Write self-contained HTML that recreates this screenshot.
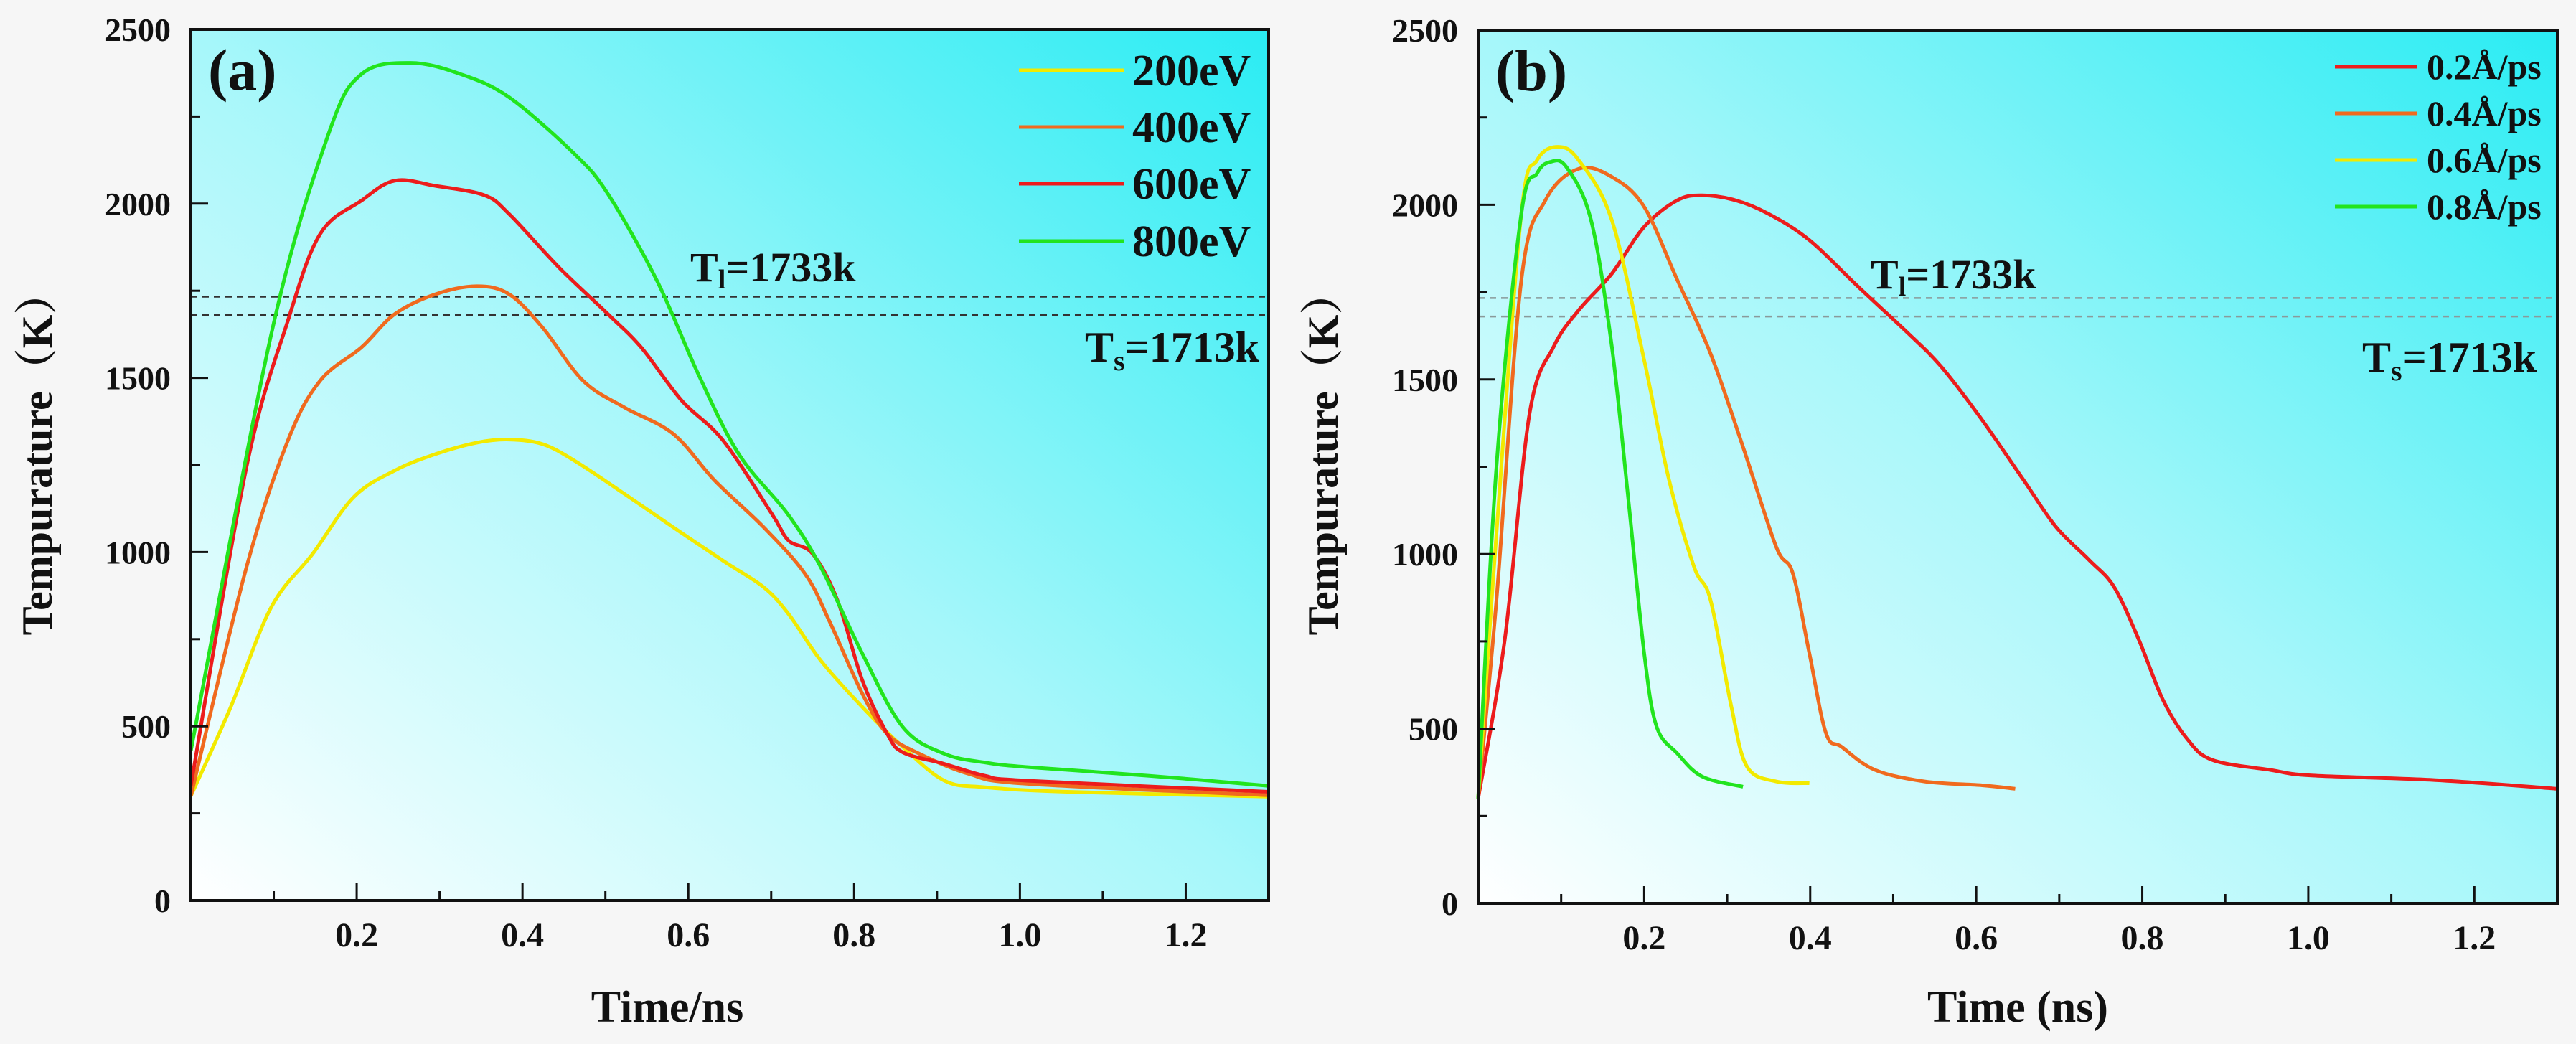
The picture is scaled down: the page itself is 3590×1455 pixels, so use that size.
<!DOCTYPE html>
<html><head><meta charset="utf-8">
<style>
html,body{margin:0;padding:0;background:#f6f6f6;}
svg{display:block;}
text{font-family:"Liberation Serif","Noto Serif CJK SC",serif;font-weight:bold;fill:#111;}
</style></head>
<body>
<svg id="fig" width="3590" height="1455" viewBox="0 0 3590 1455" xmlns="http://www.w3.org/2000/svg">
<defs>
<linearGradient id="bg" x1="0" y1="1" x2="1" y2="0">
<stop offset="0" stop-color="#ffffff"/>
<stop offset="0.5" stop-color="#a6f7fa"/>
<stop offset="1" stop-color="#2aecf3"/>
</linearGradient>
</defs>
<rect width="3590" height="1455" fill="#f6f6f6"/>
<g id="panelA"></g>
<g id="panelB"></g>
</svg>
<script>
// ---- Panel (a) data ----
const aSeriesNames = ["200eV","400eV","600eV","800eV"];
const aColors = ["#f2ea00","#f06a1e","#ec1c1c","#22e41e"];
const aX200 = [0,.048,.097,.147,.196,.246,.295,.345,.384,.424,.463,.523,.582,.642,.691,.721,.76,.81,.859,.909,.958,1.057,1.3];
const aY200 = [300,555,842,995,1157,1234,1281,1314,1323,1310,1262,1167,1071,975,899,822,688,555,440,344,325,312,298];
const aX400 = [0,.067,.117,.156,.206,.246,.295,.345,.384,.424,.473,.523,.582,.632,.691,.741,.77,.81,.84,.879,.939,1.008,1.3];
const aY400 = [300,956,1320,1492,1588,1683,1740,1763,1740,1645,1492,1415,1339,1205,1071,937,803,593,478,421,363,335,302];
const aX600 = [0,.067,.117,.156,.206,.246,.295,.354,.384,.444,.503,.543,.592,.642,.701,.721,.75,.78,.81,.84,.859,.909,.958,1.008,1.3];
const aY600 = [330,1243,1664,1913,2009,2066,2051,2024,1970,1817,1683,1588,1435,1320,1109,1033,995,861,631,478,425,392,358,344,312];
const aX800 = [0,.097,.166,.206,.265,.325,.384,.463,.503,.562,.612,.661,.72,.76,.81,.859,.909,.958,1.008,1.156,1.3];
const aY800 = [430,1626,2200,2372,2404,2372,2305,2142,2028,1780,1511,1281,1109,956,708,497,421,396,383,358,329];
// ---- Panel (b) data ----
const bSeriesNames = ["0.2Å/ps","0.4Å/ps","0.6Å/ps","0.8Å/ps"];
const bColors = ["#ec1c1c","#f06a1e","#f2ea00","#22e41e"];
const bX02 = [0,.032,.062,.091,.121,.161,.2,.24,.27,.31,.349,.399,.458,.518,.558,.607,.657,.696,.736,.766,.796,.825,.855,.885,.954,1.004,1.153,1.3];
const bY02 = [300,754,1403,1594,1698,1803,1937,2013,2027,2013,1975,1899,1765,1632,1536,1384,1212,1078,983,906,754,582,468,410,382,366,353,328];
const bX04 = [0,.022,.052,.081,.121,.161,.2,.24,.28,.319,.359,.379,.399,.419,.438,.478,.538,.607,.647];
const bY04 = [300,868,1784,2013,2103,2080,1994,1784,1574,1307,1021,945,716,487,448,382,349,338,328];
const bX06 = [0,.022,.052,.071,.096,.121,.161,.2,.23,.26,.28,.305,.324,.359,.399];
const bY06 = [300,1059,1975,2128,2166,2128,1956,1555,1212,964,868,563,391,349,344];
const bX08 = [0,.022,.052,.071,.086,.106,.136,.161,.181,.2,.215,.24,.27,.319];
const bY08 = [300,1250,1975,2090,2122,2109,1956,1594,1155,716,506,429,363,334];
// ---- axis ticks ----
const xTickVals = [0.2,0.4,0.6,0.8,1.0,1.2];
const xTickLabels = ["0.2","0.4","0.6","0.8","1.0","1.2"];
const yTickVals = [0,500,1000,1500,2000,2500];
const yTickLabels = ["0","500","1000","1500","2000","2500"];
const refLines = [1733,1680];

const NS="http://www.w3.org/2000/svg";
function mk(tag, attrs, parent){const e=document.createElementNS(NS,tag);for(const k in attrs)e.setAttribute(k,attrs[k]);parent.appendChild(e);return e;}
function smoothPath(pts){
  let d="M"+pts[0][0].toFixed(1)+","+pts[0][1].toFixed(1);
  for(let i=0;i<pts.length-1;i++){
    const p0=pts[Math.max(0,i-1)],p1=pts[i],p2=pts[i+1],p3=pts[Math.min(pts.length-1,i+2)];
    const c1=[p1[0]+(p2[0]-p0[0])/6,p1[1]+(p2[1]-p0[1])/6];
    const c2=[p2[0]-(p3[0]-p1[0])/6,p2[1]-(p3[1]-p1[1])/6];
    d+=" C"+c1[0].toFixed(1)+","+c1[1].toFixed(1)+" "+c2[0].toFixed(1)+","+c2[1].toFixed(1)+" "+p2[0].toFixed(1)+","+p2[1].toFixed(1);
  }
  return d;
}
function panel(g, cfg){
  const L=cfg.L,R=cfg.R,T=cfg.T,B=cfg.B;
  const sx=v=>L+(v-0)/(1.3-0)*(R-L);
  const sy=v=>B-(v-0)/2500*(B-T);
  const bg=mk("rect",{x:L,y:T,width:R-L,height:B-T,fill:"url(#bg)"},g);
  
  
  refLines.forEach((v,i)=>{
    const l=mk("line",{x1:L,x2:R,y1:sy(v),y2:sy(v),stroke:cfg.refColor,"stroke-width":2.5,"stroke-dasharray":"9,7"},g);
    
    
  });
  cfg.series.forEach((s,i)=>{
    const pts=s.x.map((xv,j)=>[sx(xv),sy(s.y[j])]);
    const p=mk("path",{d:smoothPath(pts),fill:"none",stroke:cfg.colors[i],"stroke-width":5,"stroke-linejoin":"round"},g);
    
    
  });
  const fr=mk("rect",{x:L,y:T,width:R-L,height:B-T,fill:"none",stroke:"#111","stroke-width":4},g);
  
  
  for(let k=1;k<=12;k++){
    const v=k/10, major=(k%2===0);
    const t=mk("line",{x1:sx(v),x2:sx(v),y1:B,y2:B-(major?24:13),stroke:"#111","stroke-width":3},g);
    
    
  }
  xTickVals.forEach((v,i)=>{
    const t=mk("text",{x:sx(v),y:B+64,"font-size":48,"text-anchor":"middle"},g);
    t.textContent=xTickLabels[i];
    
    
  });
  for(let k=1;k<10;k++){
    const v=k*250, major=(k%2===0);
    const t=mk("line",{x1:L,x2:L+(major?24:13),y1:sy(v),y2:sy(v),stroke:"#111","stroke-width":3},g);
    
    
  }
  yTickVals.forEach((v,i)=>{
    const t=mk("text",{x:L-28,y:sy(v)+16,"font-size":46,"text-anchor":"end"},g);
    t.textContent=yTickLabels[i];
    
    
  });
  const xt=mk("text",{x:cfg.xTitleX,y:1424,"font-size":62,"text-anchor":"middle"},g);
  xt.textContent=cfg.xTitle;
  
  
  const yt=mk("text",{x:0,y:0,"font-size":60,"text-anchor":"middle",transform:"translate("+(cfg.yTitleX)+",632) rotate(-90)"},g);
  yt.textContent="Tempurature（K）";
  
  
  const pl=mk("text",{x:L+24,y:T+84,"font-size":82},g);
  pl.textContent=cfg.label;
  
  
  const tl=mk("text",{x:cfg.tlX,y:cfg.tlY,"font-size":58},g);
  tl.innerHTML='T<tspan font-size="38" dy="10">l</tspan><tspan dy="-10">=1733k</tspan>';
  
  
  const ts=mk("text",{x:cfg.tsX,y:cfg.tsY,"font-size":60},g);
  ts.innerHTML='T<tspan font-size="40" dy="12">s</tspan><tspan dy="-12">=1713k</tspan>';
  
  
  cfg.names.forEach((n,i)=>{
    const y=cfg.legY[i];
    const ll=mk("line",{x1:cfg.legX1,x2:cfg.legX2,y1:y,y2:y,stroke:cfg.colors[i],"stroke-width":5},g);
    
    
    const lt=mk("text",{x:cfg.legTX,y:y+cfg.legFont*0.34,"font-size":cfg.legFont},g);
    lt.textContent=n;
    
    
  });
}
panel(document.getElementById('panelA'),{
  L:266,R:1768,T:41,B:1255,label:"(a)",xTitle:"Time/ns",xTitleX:930,yTitleX:72,
  refColor:"#333",
  names:aSeriesNames,colors:aColors,
  series:[{x:aX200,y:aY200},{x:aX400,y:aY400},{x:aX600,y:aY600},{x:aX800,y:aY800}],
  tlX:962,tlY:392,tsX:1512,tsY:504,
  legX1:1420,legX2:1566,legTX:1578,legY:[98,177,256,336],legFont:62
});
panel(document.getElementById('panelB'),{
  L:2060,R:3564,T:42,B:1259,label:"(b)",xTitle:"Time (ns)",xTitleX:2812,yTitleX:1864,
  refColor:"#8a9a9a",
  names:bSeriesNames,colors:bColors,
  series:[{x:bX02,y:bY02},{x:bX04,y:bY04},{x:bX06,y:bY06},{x:bX08,y:bY08}],
  tlX:2607,tlY:402,tsX:3292,tsY:518,
  legX1:3254,legX2:3368,legTX:3382,legY:[93,158,223,288],legFont:50
});
</script>
</body></html>
